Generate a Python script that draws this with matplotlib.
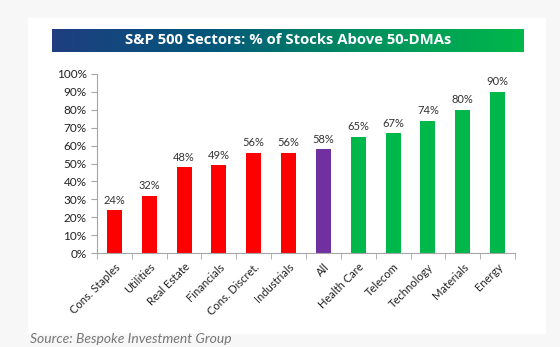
import matplotlib
matplotlib.use("Agg")
import matplotlib.pyplot as plt
import numpy as np
from matplotlib.colors import LinearSegmentedColormap
from matplotlib.patches import Rectangle
from matplotlib.ticker import PercentFormatter

sectors = ["Cons. Staples", "Utilities", "Real Estate", "Financials", "Cons. Discret.",
           "Industrials", "All", "Health Care", "Telecom", "Technology", "Materials", "Energy"]
pct_above = [24, 32, 48, 49, 56, 56, 58, 65, 67, 74, 80, 90]
groups = ["lag"] * 6 + ["all"] + ["lead"] * 5

group_colors = {"lag": "#ff0000", "all": "#7030a0", "lead": "#00b84a"}

fig = plt.figure(figsize=(5.6, 3.47), dpi=100)
fig.patch.set_facecolor("#f7f7f7")

# white panel behind the chart
fig.patches.append(Rectangle((28 / 560, 1 - 334 / 347), 518 / 560, 316 / 347,
                             transform=fig.transFigure, facecolor="white",
                             edgecolor="none", zorder=-5))

# gradient title bar
tax = fig.add_axes([52 / 560, 1 - 52 / 347, 472 / 560, 23 / 347])
cmap = LinearSegmentedColormap.from_list("bar", ["#1f3e80", "#03567a", "#00905f", "#00b84a"])
tax.imshow(np.linspace(0, 1, 256)[None, :], aspect="auto", cmap=cmap, extent=[0, 1, 0, 1])
tax.set_axis_off()
tax.text(0.5, 0.5, "S&P 500 Sectors: % of Stocks Above 50-DMAs", color="white",
         ha="center", va="center", fontsize=10.7, fontweight="bold", family="Open Sans")

ax = fig.add_axes([97 / 560, 1 - 253 / 347, 418 / 560, 179 / 347])
x = np.arange(len(sectors))
colors = [group_colors[g] for g in groups]
bars = ax.bar(x, pct_above, width=0.43, color=colors, zorder=2)

for xi, v in zip(x, pct_above):
    ax.text(xi, v + 2.5, f"{v}%", ha="center", va="bottom", fontsize=8, color="#333333",
            family="Lato")

ax.set_xlim(-0.5, len(sectors) - 0.5)
ax.set_ylim(0, 100)
ax.set_yticks(range(0, 101, 10))
ax.yaxis.set_major_formatter(PercentFormatter(decimals=0))
ax.set_xticks(x)
ax.set_xticklabels(sectors, rotation=45, ha="right", rotation_mode="anchor")
ax.set_xticks(np.arange(-0.5, len(sectors)), minor=True)
ax.tick_params(axis="x", which="major", length=0, pad=6, labelsize=8, labelcolor="#222222")
ax.tick_params(axis="x", which="minor", length=4, color="#a6a6a6")
ax.tick_params(axis="y", length=4, color="#a6a6a6", labelsize=8.5, labelcolor="#222222")
for lbl in ax.get_xticklabels() + ax.get_yticklabels():
    lbl.set_family("Lato")
for s in ["top", "right"]:
    ax.spines[s].set_visible(False)
for s in ["left", "bottom"]:
    ax.spines[s].set_color("#a6a6a6")
ax.set_facecolor("none")

fig.text(30 / 560, 1 - 339 / 347, "Source: Bespoke Investment Group", fontsize=10,
         style="italic", color="#777777", family="Lato", va="center")

fig.savefig("out.png", dpi=100, facecolor=fig.get_facecolor())
